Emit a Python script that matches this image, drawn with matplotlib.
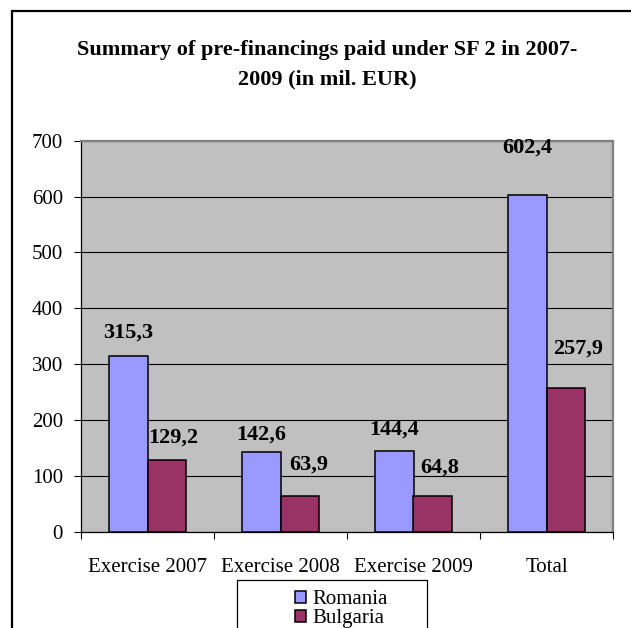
import numpy as np
import matplotlib
matplotlib.use("Agg")
import matplotlib.pyplot as plt
from matplotlib.patches import Rectangle, Patch

plt.rcParams['font.family'] = ['Liberation Serif', 'DejaVu Serif']

categories = ["Exercise 2007", "Exercise 2008", "Exercise 2009", "Total"]
romania = [315.3, 142.6, 144.4, 602.4]
bulgaria = [129.2, 63.9, 64.8, 257.9]
series_names = ["Romania", "Bulgaria"]

# where each value label sits relative to the top of its bar (pixels)
ro_label_dy = [23, 17, 21, 48]
bg_label_dx = [7, 9, 7, 13]
bg_label_dy = [22, 31, 28, 39]

ro_color = "#9999FF"
bg_color = "#993366"

W, H = 631, 628
fig = plt.figure(figsize=(W / 100, H / 100), dpi=100)
fig.patch.set_facecolor("white")

# outer chart border (runs off the right and bottom edges)
fig.patches.append(Rectangle((12 / W, -0.1), 1.2, 1 - 11 / H + 0.1,
                             transform=fig.transFigure, fill=False,
                             edgecolor="black", linewidth=1.6))

ax = fig.add_axes([81 / W, 1 - 531.7 / H, (613 - 81) / W, (531.7 - 140.7) / H])
ax.set_facecolor("#C0C0C0")

x = np.arange(len(categories))
bw = 0.286
ax.bar(x - bw / 2, romania, bw, color=ro_color, edgecolor="black", linewidth=1.1, zorder=3)
ax.bar(x + bw / 2, bulgaria, bw, color=bg_color, edgecolor="black", linewidth=1.1, zorder=3)

def fmt(v):
    return f"{v:.1f}".replace(".", ",")

for i in range(len(categories)):
    ax.annotate(fmt(romania[i]), (x[i] - bw / 2, romania[i]),
                xytext=(0, ro_label_dy[i]), textcoords="offset pixels",
                ha="center", va="center", fontsize=16, fontweight="bold", zorder=4)
    ax.annotate(fmt(bulgaria[i]), (x[i] + bw / 2, bulgaria[i]),
                xytext=(bg_label_dx[i], bg_label_dy[i]), textcoords="offset pixels",
                ha="center", va="center", fontsize=16, fontweight="bold", zorder=4)

ax.set_xlim(-0.5, len(categories) - 0.5)
ax.set_ylim(0, 700)
ax.set_yticks(np.arange(0, 701, 100))
ax.yaxis.grid(True, color="black", linewidth=0.8, zorder=1)
ax.set_axisbelow(True)

# category boundaries get the tick marks, centres get the labels
ax.set_xticks(np.arange(-0.5, len(categories), 1.0))
ax.set_xticklabels([])
ax.set_xticks(x, minor=True)
ax.set_xticklabels(categories, minor=True)
ax.tick_params(axis="x", which="major", direction="out", length=5, width=0.8, color="black")
ax.tick_params(axis="x", which="minor", length=0, pad=19, labelsize=15)
ax.tick_params(axis="y", direction="out", length=5, width=0.8, pad=8, labelsize=15)

for side in ["top", "right"]:
    ax.spines[side].set_color("#808080")
    ax.spines[side].set_linewidth(1.6)
for side in ["left", "bottom"]:
    ax.spines[side].set_color("black")
    ax.spines[side].set_linewidth(0.9)

fig.text(327 / W, 1 - 40 / H,
         "Summary of pre-financings paid under SF 2 in 2007-\n2009 (in mil. EUR)",
         ha="center", va="top", fontsize=16, fontweight="bold", linespacing=1.6)

# legend box, cut off by the bottom edge
fig.patches.append(Rectangle((237 / W, -0.1), (427 - 237) / W, 1 - 580 / H + 0.1,
                             transform=fig.transFigure, facecolor="white",
                             edgecolor="black", linewidth=0.9))
handles = [Patch(facecolor=ro_color, edgecolor="black", linewidth=1.1),
           Patch(facecolor=bg_color, edgecolor="black", linewidth=1.1)]
fig.legend(handles, series_names, loc="upper left",
           bbox_to_anchor=(285 / W, 1 - 580 / H), frameon=False,
           fontsize=15, borderpad=0, labelspacing=0.0,
           handlelength=0.5, handleheight=0.5, handletextpad=0.3)

fig.savefig("out.png", dpi=100)
